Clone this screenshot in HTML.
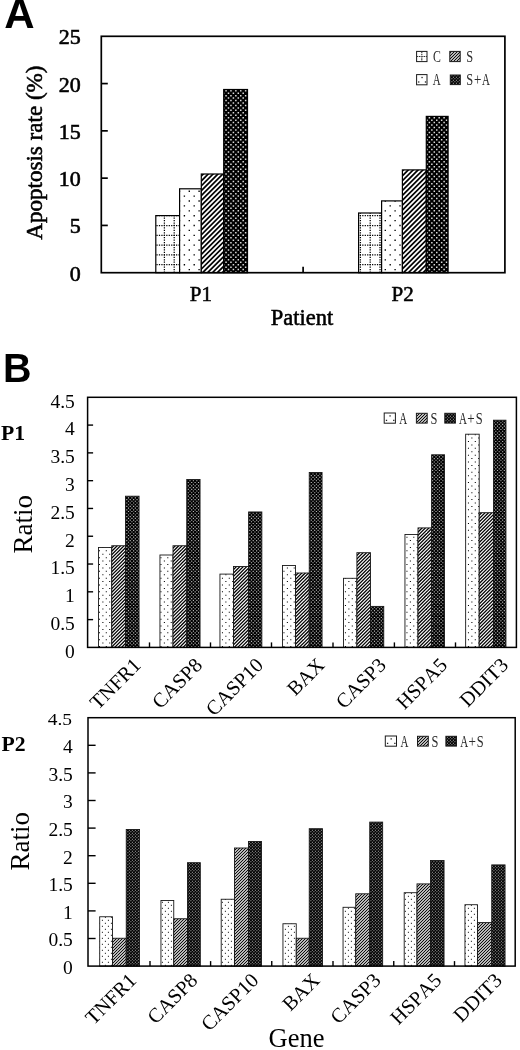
<!DOCTYPE html>
<html><head><meta charset="utf-8"><title>Figure</title>
<style>html,body{margin:0;padding:0;background:#fff;}body{width:520px;height:1050px;overflow:hidden;font-family:"Liberation Serif",serif;}svg{display:block;filter:grayscale(1) blur(0.4px);}text{fill:#000;font-kerning:none;}</style>
</head><body>
<svg width="520" height="1050" viewBox="0 0 520 1050">
<defs>
<pattern id="dotsA" x="0" y="0" width="49.0000" height="49.0000" patternUnits="userSpaceOnUse"><rect width="49.0000" height="49.0000" fill="#fff"/><g stroke="#000"><g stroke-width="1.35" stroke-dasharray="1.35 8.4500"><line x1="-2.48" y1="0.10" x2="58.80" y2="0.10"/><line x1="-2.48" y1="9.90" x2="58.80" y2="9.90"/><line x1="-2.48" y1="19.70" x2="58.80" y2="19.70"/><line x1="-2.48" y1="29.50" x2="58.80" y2="29.50"/><line x1="-2.48" y1="39.30" x2="58.80" y2="39.30"/><line x1="-2.48" y1="49.10" x2="58.80" y2="49.10"/></g><g stroke-width="1.35" stroke-dasharray="1.35 8.4500"><line x1="-7.38" y1="5.00" x2="58.80" y2="5.00"/><line x1="-7.38" y1="14.80" x2="58.80" y2="14.80"/><line x1="-7.38" y1="24.60" x2="58.80" y2="24.60"/><line x1="-7.38" y1="34.40" x2="58.80" y2="34.40"/><line x1="-7.38" y1="44.20" x2="58.80" y2="44.20"/></g></g></pattern><pattern id="darkA" x="0" y="0" width="49.0000" height="49.0000" patternUnits="userSpaceOnUse"><rect width="49.0000" height="49.0000" fill="#000"/><g stroke="#dcdcdc"><g stroke-width="1.5" stroke-dasharray="1.5 3.4000"><line x1="-2.55" y1="0.10" x2="53.90" y2="0.10"/><line x1="-2.55" y1="5.00" x2="53.90" y2="5.00"/><line x1="-2.55" y1="9.90" x2="53.90" y2="9.90"/><line x1="-2.55" y1="14.80" x2="53.90" y2="14.80"/><line x1="-2.55" y1="19.70" x2="53.90" y2="19.70"/><line x1="-2.55" y1="24.60" x2="53.90" y2="24.60"/><line x1="-2.55" y1="29.50" x2="53.90" y2="29.50"/><line x1="-2.55" y1="34.40" x2="53.90" y2="34.40"/><line x1="-2.55" y1="39.30" x2="53.90" y2="39.30"/><line x1="-2.55" y1="44.20" x2="53.90" y2="44.20"/><line x1="-2.55" y1="49.10" x2="53.90" y2="49.10"/></g><g stroke-width="1.5" stroke-dasharray="1.5 3.4000"><line x1="-5.00" y1="2.55" x2="53.90" y2="2.55"/><line x1="-5.00" y1="7.45" x2="53.90" y2="7.45"/><line x1="-5.00" y1="12.35" x2="53.90" y2="12.35"/><line x1="-5.00" y1="17.25" x2="53.90" y2="17.25"/><line x1="-5.00" y1="22.15" x2="53.90" y2="22.15"/><line x1="-5.00" y1="27.05" x2="53.90" y2="27.05"/><line x1="-5.00" y1="31.95" x2="53.90" y2="31.95"/><line x1="-5.00" y1="36.85" x2="53.90" y2="36.85"/><line x1="-5.00" y1="41.75" x2="53.90" y2="41.75"/><line x1="-5.00" y1="46.65" x2="53.90" y2="46.65"/></g></g></pattern><pattern id="hatchA" x="0" y="0" width="49.0000" height="49.0000" patternUnits="userSpaceOnUse"><rect width="49.0000" height="49.0000" fill="#fff"/><g stroke="#000" stroke-width="1.7"><line x1="-53.80" y1="-5" x2="-112.80" y2="54.00"/><line x1="-48.90" y1="-5" x2="-107.90" y2="54.00"/><line x1="-44.00" y1="-5" x2="-103.00" y2="54.00"/><line x1="-39.10" y1="-5" x2="-98.10" y2="54.00"/><line x1="-34.20" y1="-5" x2="-93.20" y2="54.00"/><line x1="-29.30" y1="-5" x2="-88.30" y2="54.00"/><line x1="-24.40" y1="-5" x2="-83.40" y2="54.00"/><line x1="-19.50" y1="-5" x2="-78.50" y2="54.00"/><line x1="-14.60" y1="-5" x2="-73.60" y2="54.00"/><line x1="-9.70" y1="-5" x2="-68.70" y2="54.00"/><line x1="-4.80" y1="-5" x2="-63.80" y2="54.00"/><line x1="0.10" y1="-5" x2="-58.90" y2="54.00"/><line x1="5.00" y1="-5" x2="-54.00" y2="54.00"/><line x1="9.90" y1="-5" x2="-49.10" y2="54.00"/><line x1="14.80" y1="-5" x2="-44.20" y2="54.00"/><line x1="19.70" y1="-5" x2="-39.30" y2="54.00"/><line x1="24.60" y1="-5" x2="-34.40" y2="54.00"/><line x1="29.50" y1="-5" x2="-29.50" y2="54.00"/><line x1="34.40" y1="-5" x2="-24.60" y2="54.00"/><line x1="39.30" y1="-5" x2="-19.70" y2="54.00"/><line x1="44.20" y1="-5" x2="-14.80" y2="54.00"/><line x1="49.10" y1="-5" x2="-9.90" y2="54.00"/><line x1="54.00" y1="-5" x2="-5.00" y2="54.00"/><line x1="58.90" y1="-5" x2="-0.10" y2="54.00"/><line x1="63.80" y1="-5" x2="4.80" y2="54.00"/><line x1="68.70" y1="-5" x2="9.70" y2="54.00"/><line x1="73.60" y1="-5" x2="14.60" y2="54.00"/><line x1="78.50" y1="-5" x2="19.50" y2="54.00"/><line x1="83.40" y1="-5" x2="24.40" y2="54.00"/><line x1="88.30" y1="-5" x2="29.30" y2="54.00"/><line x1="93.20" y1="-5" x2="34.20" y2="54.00"/><line x1="98.10" y1="-5" x2="39.10" y2="54.00"/><line x1="103.00" y1="-5" x2="44.00" y2="54.00"/><line x1="107.90" y1="-5" x2="48.90" y2="54.00"/></g></pattern><pattern id="gridA" x="0" y="0" width="49.0000" height="49.0000" patternUnits="userSpaceOnUse"><rect width="49.0000" height="49.0000" fill="#fff"/><g stroke="#000" stroke-width="1.25" stroke-dasharray="1.25 1.2000"><line x1="7.60" y1="-2.98" x2="7.60" y2="51.45"/><line x1="17.40" y1="-2.98" x2="17.40" y2="51.45"/><line x1="27.20" y1="-2.98" x2="27.20" y2="51.45"/><line x1="37.00" y1="-2.98" x2="37.00" y2="51.45"/><line x1="46.80" y1="-2.98" x2="46.80" y2="51.45"/><line x1="-2.83" y1="0.10" x2="51.45" y2="0.10"/><line x1="-2.83" y1="9.90" x2="51.45" y2="9.90"/><line x1="-2.83" y1="19.70" x2="51.45" y2="19.70"/><line x1="-2.83" y1="29.50" x2="51.45" y2="29.50"/><line x1="-2.83" y1="39.30" x2="51.45" y2="39.30"/><line x1="-2.83" y1="49.10" x2="51.45" y2="49.10"/></g></pattern>
<pattern id="dotsB" x="468" y="441" width="40.9998" height="40.9998" patternUnits="userSpaceOnUse"><rect width="40.9998" height="40.9998" fill="#fff"/><g stroke="#000"><g stroke-width="1.05" stroke-dasharray="1.05 5.7833"><line x1="-6.90" y1="0.50" x2="47.83" y2="0.50"/><line x1="-6.90" y1="7.33" x2="47.83" y2="7.33"/><line x1="-6.90" y1="14.17" x2="47.83" y2="14.17"/><line x1="-6.90" y1="21.00" x2="47.83" y2="21.00"/><line x1="-6.90" y1="27.83" x2="47.83" y2="27.83"/><line x1="-6.90" y1="34.67" x2="47.83" y2="34.67"/><line x1="-6.90" y1="41.50" x2="47.83" y2="41.50"/></g><g stroke-width="1.05" stroke-dasharray="1.05 5.7833"><line x1="-3.48" y1="3.92" x2="47.83" y2="3.92"/><line x1="-3.48" y1="10.75" x2="47.83" y2="10.75"/><line x1="-3.48" y1="17.58" x2="47.83" y2="17.58"/><line x1="-3.48" y1="24.42" x2="47.83" y2="24.42"/><line x1="-3.48" y1="31.25" x2="47.83" y2="31.25"/><line x1="-3.48" y1="38.08" x2="47.83" y2="38.08"/></g></g></pattern><pattern id="darkB" x="468" y="441" width="40.9998" height="40.9998" patternUnits="userSpaceOnUse"><rect width="40.9998" height="40.9998" fill="#000"/><g stroke="#b8b8b8"><g stroke-width="1.15" stroke-dasharray="1.15 2.2667"><line x1="-3.53" y1="0.50" x2="44.42" y2="0.50"/><line x1="-3.53" y1="3.92" x2="44.42" y2="3.92"/><line x1="-3.53" y1="7.33" x2="44.42" y2="7.33"/><line x1="-3.53" y1="10.75" x2="44.42" y2="10.75"/><line x1="-3.53" y1="14.17" x2="44.42" y2="14.17"/><line x1="-3.53" y1="17.58" x2="44.42" y2="17.58"/><line x1="-3.53" y1="21.00" x2="44.42" y2="21.00"/><line x1="-3.53" y1="24.42" x2="44.42" y2="24.42"/><line x1="-3.53" y1="27.83" x2="44.42" y2="27.83"/><line x1="-3.53" y1="31.25" x2="44.42" y2="31.25"/><line x1="-3.53" y1="34.67" x2="44.42" y2="34.67"/><line x1="-3.53" y1="38.08" x2="44.42" y2="38.08"/><line x1="-3.53" y1="41.50" x2="44.42" y2="41.50"/></g><g stroke-width="1.15" stroke-dasharray="1.15 2.2667"><line x1="-1.82" y1="2.21" x2="44.42" y2="2.21"/><line x1="-1.82" y1="5.62" x2="44.42" y2="5.62"/><line x1="-1.82" y1="9.04" x2="44.42" y2="9.04"/><line x1="-1.82" y1="12.46" x2="44.42" y2="12.46"/><line x1="-1.82" y1="15.87" x2="44.42" y2="15.87"/><line x1="-1.82" y1="19.29" x2="44.42" y2="19.29"/><line x1="-1.82" y1="22.71" x2="44.42" y2="22.71"/><line x1="-1.82" y1="26.12" x2="44.42" y2="26.12"/><line x1="-1.82" y1="29.54" x2="44.42" y2="29.54"/><line x1="-1.82" y1="32.96" x2="44.42" y2="32.96"/><line x1="-1.82" y1="36.37" x2="44.42" y2="36.37"/><line x1="-1.82" y1="39.79" x2="44.42" y2="39.79"/></g></g></pattern><pattern id="hatchB" x="468" y="441" width="40.9998" height="40.9998" patternUnits="userSpaceOnUse"><rect width="40.9998" height="40.9998" fill="#fff"/><g stroke="#000" stroke-width="1.25"><line x1="-42.83" y1="-5" x2="-93.83" y2="46.00"/><line x1="-39.42" y1="-5" x2="-90.42" y2="46.00"/><line x1="-36.00" y1="-5" x2="-87.00" y2="46.00"/><line x1="-32.58" y1="-5" x2="-83.58" y2="46.00"/><line x1="-29.17" y1="-5" x2="-80.17" y2="46.00"/><line x1="-25.75" y1="-5" x2="-76.75" y2="46.00"/><line x1="-22.33" y1="-5" x2="-73.33" y2="46.00"/><line x1="-18.92" y1="-5" x2="-69.92" y2="46.00"/><line x1="-15.50" y1="-5" x2="-66.50" y2="46.00"/><line x1="-12.08" y1="-5" x2="-63.08" y2="46.00"/><line x1="-8.67" y1="-5" x2="-59.67" y2="46.00"/><line x1="-5.25" y1="-5" x2="-56.25" y2="46.00"/><line x1="-1.83" y1="-5" x2="-52.83" y2="46.00"/><line x1="1.58" y1="-5" x2="-49.42" y2="46.00"/><line x1="5.00" y1="-5" x2="-46.00" y2="46.00"/><line x1="8.42" y1="-5" x2="-42.58" y2="46.00"/><line x1="11.83" y1="-5" x2="-39.17" y2="46.00"/><line x1="15.25" y1="-5" x2="-35.75" y2="46.00"/><line x1="18.67" y1="-5" x2="-32.33" y2="46.00"/><line x1="22.08" y1="-5" x2="-28.92" y2="46.00"/><line x1="25.50" y1="-5" x2="-25.50" y2="46.00"/><line x1="28.92" y1="-5" x2="-22.08" y2="46.00"/><line x1="32.33" y1="-5" x2="-18.67" y2="46.00"/><line x1="35.75" y1="-5" x2="-15.25" y2="46.00"/><line x1="39.17" y1="-5" x2="-11.83" y2="46.00"/><line x1="42.58" y1="-5" x2="-8.42" y2="46.00"/><line x1="46.00" y1="-5" x2="-5.00" y2="46.00"/><line x1="49.42" y1="-5" x2="-1.58" y2="46.00"/><line x1="52.83" y1="-5" x2="1.83" y2="46.00"/><line x1="56.25" y1="-5" x2="5.25" y2="46.00"/><line x1="59.67" y1="-5" x2="8.67" y2="46.00"/><line x1="63.08" y1="-5" x2="12.08" y2="46.00"/><line x1="66.50" y1="-5" x2="15.50" y2="46.00"/><line x1="69.92" y1="-5" x2="18.92" y2="46.00"/><line x1="73.33" y1="-5" x2="22.33" y2="46.00"/><line x1="76.75" y1="-5" x2="25.75" y2="46.00"/><line x1="80.17" y1="-5" x2="29.17" y2="46.00"/><line x1="83.58" y1="-5" x2="32.58" y2="46.00"/><line x1="87.00" y1="-5" x2="36.00" y2="46.00"/><line x1="90.42" y1="-5" x2="39.42" y2="46.00"/></g></pattern><pattern id="gridB" x="468" y="441" width="40.9998" height="40.9998" patternUnits="userSpaceOnUse"><rect width="40.9998" height="40.9998" fill="#fff"/><g stroke="#000" stroke-width="1.25" stroke-dasharray="1.25 0.4583"><line x1="0.06" y1="-1.83" x2="0.06" y2="42.71"/><line x1="6.89" y1="-1.83" x2="6.89" y2="42.71"/><line x1="13.73" y1="-1.83" x2="13.73" y2="42.71"/><line x1="20.56" y1="-1.83" x2="20.56" y2="42.71"/><line x1="27.39" y1="-1.83" x2="27.39" y2="42.71"/><line x1="34.23" y1="-1.83" x2="34.23" y2="42.71"/><line x1="41.06" y1="-1.83" x2="41.06" y2="42.71"/><line x1="-2.27" y1="0.50" x2="42.71" y2="0.50"/><line x1="-2.27" y1="7.33" x2="42.71" y2="7.33"/><line x1="-2.27" y1="14.17" x2="42.71" y2="14.17"/><line x1="-2.27" y1="21.00" x2="42.71" y2="21.00"/><line x1="-2.27" y1="27.83" x2="42.71" y2="27.83"/><line x1="-2.27" y1="34.67" x2="42.71" y2="34.67"/><line x1="-2.27" y1="41.50" x2="42.71" y2="41.50"/></g></pattern>
<pattern id="dotsC" x="405" y="899" width="36.0000" height="36.0000" patternUnits="userSpaceOnUse"><rect width="36.0000" height="36.0000" fill="#fff"/><g stroke="#000"><g stroke-width="1.0" stroke-dasharray="1.0 5.0000"><line x1="-6.10" y1="0.30" x2="42.00" y2="0.30"/><line x1="-6.10" y1="6.30" x2="42.00" y2="6.30"/><line x1="-6.10" y1="12.30" x2="42.00" y2="12.30"/><line x1="-6.10" y1="18.30" x2="42.00" y2="18.30"/><line x1="-6.10" y1="24.30" x2="42.00" y2="24.30"/><line x1="-6.10" y1="30.30" x2="42.00" y2="30.30"/><line x1="-6.10" y1="36.30" x2="42.00" y2="36.30"/></g><g stroke-width="1.0" stroke-dasharray="1.0 5.0000"><line x1="-3.10" y1="3.30" x2="42.00" y2="3.30"/><line x1="-3.10" y1="9.30" x2="42.00" y2="9.30"/><line x1="-3.10" y1="15.30" x2="42.00" y2="15.30"/><line x1="-3.10" y1="21.30" x2="42.00" y2="21.30"/><line x1="-3.10" y1="27.30" x2="42.00" y2="27.30"/><line x1="-3.10" y1="33.30" x2="42.00" y2="33.30"/></g></g></pattern><pattern id="darkC" x="405" y="899" width="36.0000" height="36.0000" patternUnits="userSpaceOnUse"><rect width="36.0000" height="36.0000" fill="#000"/><g stroke="#b0b0b0"><g stroke-width="1.05" stroke-dasharray="1.05 1.9500"><line x1="-3.12" y1="0.30" x2="39.00" y2="0.30"/><line x1="-3.12" y1="3.30" x2="39.00" y2="3.30"/><line x1="-3.12" y1="6.30" x2="39.00" y2="6.30"/><line x1="-3.12" y1="9.30" x2="39.00" y2="9.30"/><line x1="-3.12" y1="12.30" x2="39.00" y2="12.30"/><line x1="-3.12" y1="15.30" x2="39.00" y2="15.30"/><line x1="-3.12" y1="18.30" x2="39.00" y2="18.30"/><line x1="-3.12" y1="21.30" x2="39.00" y2="21.30"/><line x1="-3.12" y1="24.30" x2="39.00" y2="24.30"/><line x1="-3.12" y1="27.30" x2="39.00" y2="27.30"/><line x1="-3.12" y1="30.30" x2="39.00" y2="30.30"/><line x1="-3.12" y1="33.30" x2="39.00" y2="33.30"/><line x1="-3.12" y1="36.30" x2="39.00" y2="36.30"/></g><g stroke-width="1.05" stroke-dasharray="1.05 1.9500"><line x1="-1.62" y1="1.80" x2="39.00" y2="1.80"/><line x1="-1.62" y1="4.80" x2="39.00" y2="4.80"/><line x1="-1.62" y1="7.80" x2="39.00" y2="7.80"/><line x1="-1.62" y1="10.80" x2="39.00" y2="10.80"/><line x1="-1.62" y1="13.80" x2="39.00" y2="13.80"/><line x1="-1.62" y1="16.80" x2="39.00" y2="16.80"/><line x1="-1.62" y1="19.80" x2="39.00" y2="19.80"/><line x1="-1.62" y1="22.80" x2="39.00" y2="22.80"/><line x1="-1.62" y1="25.80" x2="39.00" y2="25.80"/><line x1="-1.62" y1="28.80" x2="39.00" y2="28.80"/><line x1="-1.62" y1="31.80" x2="39.00" y2="31.80"/><line x1="-1.62" y1="34.80" x2="39.00" y2="34.80"/></g></g></pattern><pattern id="hatchC" x="405" y="899" width="36.0000" height="36.0000" patternUnits="userSpaceOnUse"><rect width="36.0000" height="36.0000" fill="#fff"/><g stroke="#000" stroke-width="1.1"><line x1="-37.00" y1="-5" x2="-83.00" y2="41.00"/><line x1="-34.00" y1="-5" x2="-80.00" y2="41.00"/><line x1="-31.00" y1="-5" x2="-77.00" y2="41.00"/><line x1="-28.00" y1="-5" x2="-74.00" y2="41.00"/><line x1="-25.00" y1="-5" x2="-71.00" y2="41.00"/><line x1="-22.00" y1="-5" x2="-68.00" y2="41.00"/><line x1="-19.00" y1="-5" x2="-65.00" y2="41.00"/><line x1="-16.00" y1="-5" x2="-62.00" y2="41.00"/><line x1="-13.00" y1="-5" x2="-59.00" y2="41.00"/><line x1="-10.00" y1="-5" x2="-56.00" y2="41.00"/><line x1="-7.00" y1="-5" x2="-53.00" y2="41.00"/><line x1="-4.00" y1="-5" x2="-50.00" y2="41.00"/><line x1="-1.00" y1="-5" x2="-47.00" y2="41.00"/><line x1="2.00" y1="-5" x2="-44.00" y2="41.00"/><line x1="5.00" y1="-5" x2="-41.00" y2="41.00"/><line x1="8.00" y1="-5" x2="-38.00" y2="41.00"/><line x1="11.00" y1="-5" x2="-35.00" y2="41.00"/><line x1="14.00" y1="-5" x2="-32.00" y2="41.00"/><line x1="17.00" y1="-5" x2="-29.00" y2="41.00"/><line x1="20.00" y1="-5" x2="-26.00" y2="41.00"/><line x1="23.00" y1="-5" x2="-23.00" y2="41.00"/><line x1="26.00" y1="-5" x2="-20.00" y2="41.00"/><line x1="29.00" y1="-5" x2="-17.00" y2="41.00"/><line x1="32.00" y1="-5" x2="-14.00" y2="41.00"/><line x1="35.00" y1="-5" x2="-11.00" y2="41.00"/><line x1="38.00" y1="-5" x2="-8.00" y2="41.00"/><line x1="41.00" y1="-5" x2="-5.00" y2="41.00"/><line x1="44.00" y1="-5" x2="-2.00" y2="41.00"/><line x1="47.00" y1="-5" x2="1.00" y2="41.00"/><line x1="50.00" y1="-5" x2="4.00" y2="41.00"/><line x1="53.00" y1="-5" x2="7.00" y2="41.00"/><line x1="56.00" y1="-5" x2="10.00" y2="41.00"/><line x1="59.00" y1="-5" x2="13.00" y2="41.00"/><line x1="62.00" y1="-5" x2="16.00" y2="41.00"/><line x1="65.00" y1="-5" x2="19.00" y2="41.00"/><line x1="68.00" y1="-5" x2="22.00" y2="41.00"/><line x1="71.00" y1="-5" x2="25.00" y2="41.00"/><line x1="74.00" y1="-5" x2="28.00" y2="41.00"/><line x1="77.00" y1="-5" x2="31.00" y2="41.00"/><line x1="80.00" y1="-5" x2="34.00" y2="41.00"/></g></pattern><pattern id="gridC" x="405" y="899" width="36.0000" height="36.0000" patternUnits="userSpaceOnUse"><rect width="36.0000" height="36.0000" fill="#fff"/><g stroke="#000" stroke-width="1.25" stroke-dasharray="1.25 0.2500"><line x1="0.00" y1="-1.82" x2="0.00" y2="37.50"/><line x1="6.00" y1="-1.82" x2="6.00" y2="37.50"/><line x1="12.00" y1="-1.82" x2="12.00" y2="37.50"/><line x1="18.00" y1="-1.82" x2="18.00" y2="37.50"/><line x1="24.00" y1="-1.82" x2="24.00" y2="37.50"/><line x1="30.00" y1="-1.82" x2="30.00" y2="37.50"/><line x1="36.00" y1="-1.82" x2="36.00" y2="37.50"/><line x1="-2.12" y1="0.30" x2="37.50" y2="0.30"/><line x1="-2.12" y1="6.30" x2="37.50" y2="6.30"/><line x1="-2.12" y1="12.30" x2="37.50" y2="12.30"/><line x1="-2.12" y1="18.30" x2="37.50" y2="18.30"/><line x1="-2.12" y1="24.30" x2="37.50" y2="24.30"/><line x1="-2.12" y1="30.30" x2="37.50" y2="30.30"/><line x1="-2.12" y1="36.30" x2="37.50" y2="36.30"/></g></pattern>
</defs>
<text x="4.3" y="28.4" font-family='"Liberation Sans", sans-serif' font-size="42" font-weight="bold" text-anchor="start" >A</text>
<rect x="155.8" y="215.6" width="23.80" height="57.10" fill="url(#gridA)" stroke="#000" stroke-width="1.2"/>
<rect x="179.6" y="188.8" width="21.70" height="83.90" fill="url(#dotsA)" stroke="#000" stroke-width="1.2"/>
<rect x="201.3" y="174.0" width="22.40" height="98.70" fill="url(#hatchA)" stroke="#000" stroke-width="1.2"/>
<rect x="223.7" y="89.5" width="23.80" height="183.20" fill="url(#darkA)" stroke="#000" stroke-width="1.2"/>
<rect x="358.6" y="213.0" width="23.00" height="59.70" fill="url(#gridA)" stroke="#000" stroke-width="1.2"/>
<rect x="381.6" y="200.9" width="20.80" height="71.80" fill="url(#dotsA)" stroke="#000" stroke-width="1.2"/>
<rect x="402.4" y="169.9" width="23.90" height="102.80" fill="url(#hatchA)" stroke="#000" stroke-width="1.2"/>
<rect x="426.3" y="116.4" width="21.80" height="156.30" fill="url(#darkA)" stroke="#000" stroke-width="1.2"/>
<rect x="101.3" y="36.3" width="403.59999999999997" height="236.39999999999998" fill="none" stroke="#000" stroke-width="1.7"/>
<text x="80.8" y="280.7" font-family='"Liberation Serif", serif' font-size="22" font-weight="normal" text-anchor="end" stroke="#000" stroke-width="0.6">0</text>
<line x1="101.3" y1="225.42" x2="107.8" y2="225.42" stroke="#000" stroke-width="1.7"/>
<text x="80.8" y="233.42" font-family='"Liberation Serif", serif' font-size="22" font-weight="normal" text-anchor="end" stroke="#000" stroke-width="0.6">5</text>
<line x1="101.3" y1="178.14" x2="107.8" y2="178.14" stroke="#000" stroke-width="1.7"/>
<text x="80.8" y="186.14" font-family='"Liberation Serif", serif' font-size="22" font-weight="normal" text-anchor="end" stroke="#000" stroke-width="0.6">10</text>
<line x1="101.3" y1="130.86" x2="107.8" y2="130.86" stroke="#000" stroke-width="1.7"/>
<text x="80.8" y="138.86" font-family='"Liberation Serif", serif' font-size="22" font-weight="normal" text-anchor="end" stroke="#000" stroke-width="0.6">15</text>
<line x1="101.3" y1="83.58" x2="107.8" y2="83.58" stroke="#000" stroke-width="1.7"/>
<text x="80.8" y="91.58" font-family='"Liberation Serif", serif' font-size="22" font-weight="normal" text-anchor="end" stroke="#000" stroke-width="0.6">20</text>
<text x="80.8" y="44.3" font-family='"Liberation Serif", serif' font-size="22" font-weight="normal" text-anchor="end" stroke="#000" stroke-width="0.6">25</text>
<line x1="303.09999999999997" y1="272.7" x2="303.09999999999997" y2="266.7" stroke="#000" stroke-width="1.7"/>
<text x="200.8" y="300.8" font-family='"Liberation Serif", serif' font-size="21" font-weight="normal" text-anchor="middle" stroke="#000" stroke-width="0.55">P1</text>
<text x="402.6" y="300.8" font-family='"Liberation Serif", serif' font-size="21" font-weight="normal" text-anchor="middle" stroke="#000" stroke-width="0.55">P2</text>
<text x="302" y="324.6" font-family='"Liberation Serif", serif' font-size="22.5" font-weight="normal" text-anchor="middle" stroke="#000" stroke-width="0.55">Patient</text>
<text transform="translate(41.5,152.6) rotate(-90)" font-family='"Liberation Serif", serif' font-size="23.05" text-anchor="middle" stroke="#000" stroke-width="0.55">Apoptosis rate (%)</text>
<rect x="416.6" y="51.4" width="10.4" height="10.2" fill="#fff" stroke="#1a1a1a" stroke-width="1.0"/>
<path d="M421.80 51.4V61.599999999999994M416.6 56.50H427.0" stroke="#333" stroke-width="1.1" fill="none" stroke-dasharray="1.6 0.7"/>
<text transform="translate(436.82,62.1) scale(0.740,1)" font-family='"Liberation Serif", serif' font-size="16.0" text-anchor="middle" fill="#2a2a2a" style="fill:#2a2a2a">C</text>
<rect x="449.8" y="51.4" width="10.4" height="10.2" fill="url(#hatchC)" stroke="#1a1a1a" stroke-width="1.0"/>
<text transform="translate(469.72,62.1) scale(0.776,1)" font-family='"Liberation Serif", serif' font-size="16.0" text-anchor="middle" fill="#2a2a2a" style="fill:#2a2a2a">S</text>
<rect x="416.6" y="74.6" width="10.4" height="10.2" fill="#fff" stroke="#1a1a1a" stroke-width="1.0"/>
<rect x="421.41" y="76.86" width="1.3" height="1.3" fill="#222"/>
<rect x="418.08" y="81.34" width="1.3" height="1.3" fill="#222"/>
<rect x="424.84" y="81.34" width="1.3" height="1.3" fill="#222"/>
<text transform="translate(436.62,84.6) scale(0.684,1)" font-family='"Liberation Serif", serif' font-size="16.0" text-anchor="middle" fill="#2a2a2a" style="fill:#2a2a2a">A</text>
<rect x="450.3" y="75.0" width="10.0" height="9.6" fill="url(#darkC)" stroke="#1a1a1a" stroke-width="1.0"/>
<text transform="translate(469.72,84.6) scale(0.776,1)" font-family='"Liberation Serif", serif' font-size="16.0" text-anchor="middle" fill="#2a2a2a" style="fill:#2a2a2a">S</text>
<text transform="translate(477.77,84.6) scale(0.820,1)" font-family='"Liberation Serif", serif' font-size="16.0" text-anchor="middle" fill="#2a2a2a" style="fill:#2a2a2a">+</text>
<text transform="translate(485.82,84.6) scale(0.684,1)" font-family='"Liberation Serif", serif' font-size="16.0" text-anchor="middle" fill="#2a2a2a" style="fill:#2a2a2a">A</text>
<text x="3.1" y="381.8" font-family='"Liberation Sans", sans-serif' font-size="41" font-weight="bold" text-anchor="start" textLength="28.5" lengthAdjust="spacingAndGlyphs">B</text>
<rect x="98.45" y="547.50" width="13.30" height="99.90" fill="url(#dotsB)" stroke="#181818" stroke-width="0.9"/>
<rect x="111.75" y="545.75" width="13.75" height="101.65" fill="url(#hatchB)" stroke="#181818" stroke-width="0.9"/>
<rect x="125.50" y="496.20" width="13.55" height="151.20" fill="url(#darkB)" stroke="#181818" stroke-width="0.9"/>
<rect x="159.95" y="555.00" width="13.05" height="92.40" fill="url(#dotsB)" stroke="#181818" stroke-width="0.9"/>
<rect x="173.00" y="545.75" width="13.75" height="101.65" fill="url(#hatchB)" stroke="#181818" stroke-width="0.9"/>
<rect x="186.75" y="479.50" width="13.30" height="167.90" fill="url(#darkB)" stroke="#181818" stroke-width="0.9"/>
<rect x="219.95" y="574.10" width="13.55" height="73.30" fill="url(#dotsB)" stroke="#181818" stroke-width="0.9"/>
<rect x="233.50" y="566.50" width="15.10" height="80.90" fill="url(#hatchB)" stroke="#181818" stroke-width="0.9"/>
<rect x="248.60" y="511.95" width="13.25" height="135.45" fill="url(#darkB)" stroke="#181818" stroke-width="0.9"/>
<rect x="282.45" y="565.50" width="13.05" height="81.90" fill="url(#dotsB)" stroke="#181818" stroke-width="0.9"/>
<rect x="295.50" y="573.00" width="13.75" height="74.40" fill="url(#hatchB)" stroke="#181818" stroke-width="0.9"/>
<rect x="309.25" y="472.45" width="12.80" height="174.95" fill="url(#darkB)" stroke="#181818" stroke-width="0.9"/>
<rect x="343.45" y="578.30" width="13.45" height="69.10" fill="url(#dotsB)" stroke="#181818" stroke-width="0.9"/>
<rect x="356.90" y="552.70" width="13.60" height="94.70" fill="url(#hatchB)" stroke="#181818" stroke-width="0.9"/>
<rect x="370.50" y="606.40" width="13.25" height="41.00" fill="url(#darkB)" stroke="#181818" stroke-width="0.9"/>
<rect x="404.95" y="534.50" width="13.05" height="112.90" fill="url(#dotsB)" stroke="#181818" stroke-width="0.9"/>
<rect x="418.00" y="527.90" width="13.60" height="119.50" fill="url(#hatchB)" stroke="#181818" stroke-width="0.9"/>
<rect x="431.60" y="454.80" width="12.95" height="192.60" fill="url(#darkB)" stroke="#181818" stroke-width="0.9"/>
<rect x="465.65" y="434.20" width="13.55" height="213.20" fill="url(#dotsB)" stroke="#181818" stroke-width="0.9"/>
<rect x="479.20" y="512.70" width="14.30" height="134.70" fill="url(#hatchB)" stroke="#181818" stroke-width="0.9"/>
<rect x="493.50" y="420.20" width="12.45" height="227.20" fill="url(#darkB)" stroke="#181818" stroke-width="0.9"/>
<rect x="87.6" y="397.3" width="428.79999999999995" height="250.09999999999997" fill="none" stroke="#000" stroke-width="1.5"/>
<text x="74.8" y="657.7" font-family='"Liberation Serif", serif' font-size="19.5" font-weight="normal" text-anchor="end" >0</text>
<line x1="87.6" y1="619.61" x2="93.1" y2="619.61" stroke="#000" stroke-width="1.4"/>
<text x="74.8" y="629.91" font-family='"Liberation Serif", serif' font-size="19.5" font-weight="normal" text-anchor="end" >0.5</text>
<line x1="87.6" y1="591.82" x2="93.1" y2="591.82" stroke="#000" stroke-width="1.4"/>
<text x="74.8" y="602.12" font-family='"Liberation Serif", serif' font-size="19.5" font-weight="normal" text-anchor="end" >1</text>
<line x1="87.6" y1="564.03" x2="93.1" y2="564.03" stroke="#000" stroke-width="1.4"/>
<text x="74.8" y="574.33" font-family='"Liberation Serif", serif' font-size="19.5" font-weight="normal" text-anchor="end" >1.5</text>
<line x1="87.6" y1="536.24" x2="93.1" y2="536.24" stroke="#000" stroke-width="1.4"/>
<text x="74.8" y="546.54" font-family='"Liberation Serif", serif' font-size="19.5" font-weight="normal" text-anchor="end" >2</text>
<line x1="87.6" y1="508.46" x2="93.1" y2="508.46" stroke="#000" stroke-width="1.4"/>
<text x="74.8" y="518.76" font-family='"Liberation Serif", serif' font-size="19.5" font-weight="normal" text-anchor="end" >2.5</text>
<line x1="87.6" y1="480.67" x2="93.1" y2="480.67" stroke="#000" stroke-width="1.4"/>
<text x="74.8" y="490.97" font-family='"Liberation Serif", serif' font-size="19.5" font-weight="normal" text-anchor="end" >3</text>
<line x1="87.6" y1="452.88" x2="93.1" y2="452.88" stroke="#000" stroke-width="1.4"/>
<text x="74.8" y="463.18" font-family='"Liberation Serif", serif' font-size="19.5" font-weight="normal" text-anchor="end" >3.5</text>
<line x1="87.6" y1="425.09" x2="93.1" y2="425.09" stroke="#000" stroke-width="1.4"/>
<text x="74.8" y="435.39" font-family='"Liberation Serif", serif' font-size="19.5" font-weight="normal" text-anchor="end" >4</text>
<text x="74.8" y="407.6" font-family='"Liberation Serif", serif' font-size="19.5" font-weight="normal" text-anchor="end" >4.5</text>
<line x1="149.50" y1="647.4" x2="149.50" y2="642.4" stroke="#000" stroke-width="1.4"/>
<line x1="210.50" y1="647.4" x2="210.50" y2="642.4" stroke="#000" stroke-width="1.4"/>
<line x1="271.50" y1="647.4" x2="271.50" y2="642.4" stroke="#000" stroke-width="1.4"/>
<line x1="333.00" y1="647.4" x2="333.00" y2="642.4" stroke="#000" stroke-width="1.4"/>
<line x1="394.40" y1="647.4" x2="394.40" y2="642.4" stroke="#000" stroke-width="1.4"/>
<line x1="455.50" y1="647.4" x2="455.50" y2="642.4" stroke="#000" stroke-width="1.4"/>
<text transform="translate(142.00,666.40) rotate(-45)" font-family='"Liberation Serif", serif' font-size="20.4" text-anchor="end">TNFR1</text>
<text transform="translate(203.50,666.40) rotate(-45)" font-family='"Liberation Serif", serif' font-size="20.4" text-anchor="end">CASP8</text>
<text transform="translate(264.50,666.40) rotate(-45)" font-family='"Liberation Serif", serif' font-size="20.4" text-anchor="end">CASP10</text>
<text transform="translate(325.75,666.40) rotate(-45)" font-family='"Liberation Serif", serif' font-size="20.4" text-anchor="end">BAX</text>
<text transform="translate(387.20,666.40) rotate(-45)" font-family='"Liberation Serif", serif' font-size="20.4" text-anchor="end">CASP3</text>
<text transform="translate(448.45,666.40) rotate(-45)" font-family='"Liberation Serif", serif' font-size="20.4" text-anchor="end">HSPA5</text>
<text transform="translate(509.40,666.40) rotate(-45)" font-family='"Liberation Serif", serif' font-size="20.4" text-anchor="end">DDIT3</text>
<text transform="translate(1,440) scale(1.06,1)" font-family='"Liberation Serif", serif' font-size="20.5" font-weight="bold">P1</text>
<text transform="translate(31.8,524.3) rotate(-90)" font-family='"Liberation Serif", serif' font-size="27" text-anchor="middle">Ratio</text>
<rect x="384.2" y="413.0" width="11.2" height="10.2" fill="#fff" stroke="#1a1a1a" stroke-width="1.0"/>
<rect x="389.42" y="415.26" width="1.3" height="1.3" fill="#222"/>
<rect x="385.84" y="419.74" width="1.3" height="1.3" fill="#222"/>
<rect x="393.12" y="419.74" width="1.3" height="1.3" fill="#222"/>
<text transform="translate(403.22,423.7) scale(0.684,1)" font-family='"Liberation Serif", serif' font-size="16.0" text-anchor="middle" fill="#2a2a2a" style="fill:#2a2a2a">A</text>
<rect x="416.4" y="413.3" width="10.8" height="9.8" fill="url(#hatchC)" stroke="#1a1a1a" stroke-width="1.0"/>
<text transform="translate(433.92,423.7) scale(0.776,1)" font-family='"Liberation Serif", serif' font-size="16.0" text-anchor="middle" fill="#2a2a2a" style="fill:#2a2a2a">S</text>
<rect x="444.8" y="413.3" width="10.6" height="9.8" fill="url(#darkC)" stroke="#1a1a1a" stroke-width="1.0"/>
<text transform="translate(463.02,423.7) scale(0.684,1)" font-family='"Liberation Serif", serif' font-size="16.0" text-anchor="middle" fill="#2a2a2a" style="fill:#2a2a2a">A</text>
<text transform="translate(471.07,423.7) scale(0.820,1)" font-family='"Liberation Serif", serif' font-size="16.0" text-anchor="middle" fill="#2a2a2a" style="fill:#2a2a2a">+</text>
<text transform="translate(479.12,423.7) scale(0.776,1)" font-family='"Liberation Serif", serif' font-size="16.0" text-anchor="middle" fill="#2a2a2a" style="fill:#2a2a2a">S</text>
<rect x="99.70" y="916.75" width="12.80" height="49.35" fill="url(#dotsC)" stroke="#181818" stroke-width="0.9"/>
<rect x="112.50" y="938.25" width="13.75" height="27.85" fill="url(#hatchC)" stroke="#181818" stroke-width="0.9"/>
<rect x="126.25" y="829.45" width="13.30" height="136.65" fill="url(#darkC)" stroke="#181818" stroke-width="0.9"/>
<rect x="160.95" y="900.50" width="12.80" height="65.60" fill="url(#dotsC)" stroke="#181818" stroke-width="0.9"/>
<rect x="173.75" y="918.75" width="13.75" height="47.35" fill="url(#hatchC)" stroke="#181818" stroke-width="0.9"/>
<rect x="187.50" y="862.70" width="12.80" height="103.40" fill="url(#darkC)" stroke="#181818" stroke-width="0.9"/>
<rect x="221.20" y="899.25" width="13.30" height="66.85" fill="url(#dotsC)" stroke="#181818" stroke-width="0.9"/>
<rect x="234.50" y="848.00" width="14.00" height="118.10" fill="url(#hatchC)" stroke="#181818" stroke-width="0.9"/>
<rect x="248.50" y="841.45" width="13.05" height="124.65" fill="url(#darkC)" stroke="#181818" stroke-width="0.9"/>
<rect x="282.95" y="923.75" width="13.30" height="42.35" fill="url(#dotsC)" stroke="#181818" stroke-width="0.9"/>
<rect x="296.25" y="938.25" width="13.00" height="27.85" fill="url(#hatchC)" stroke="#181818" stroke-width="0.9"/>
<rect x="309.25" y="828.70" width="13.30" height="137.40" fill="url(#darkC)" stroke="#181818" stroke-width="0.9"/>
<rect x="343.05" y="907.30" width="12.70" height="58.80" fill="url(#dotsC)" stroke="#181818" stroke-width="0.9"/>
<rect x="355.75" y="893.80" width="14.00" height="72.30" fill="url(#hatchC)" stroke="#181818" stroke-width="0.9"/>
<rect x="369.75" y="822.10" width="12.90" height="144.00" fill="url(#darkC)" stroke="#181818" stroke-width="0.9"/>
<rect x="404.20" y="892.70" width="12.80" height="73.40" fill="url(#dotsC)" stroke="#181818" stroke-width="0.9"/>
<rect x="417.00" y="883.90" width="13.50" height="82.20" fill="url(#hatchC)" stroke="#181818" stroke-width="0.9"/>
<rect x="430.50" y="860.50" width="13.55" height="105.60" fill="url(#darkC)" stroke="#181818" stroke-width="0.9"/>
<rect x="464.95" y="904.70" width="12.55" height="61.40" fill="url(#dotsC)" stroke="#181818" stroke-width="0.9"/>
<rect x="477.50" y="922.60" width="14.25" height="43.50" fill="url(#hatchC)" stroke="#181818" stroke-width="0.9"/>
<rect x="491.75" y="864.90" width="13.30" height="101.20" fill="url(#darkC)" stroke="#181818" stroke-width="0.9"/>
<rect x="88.0" y="717.7" width="427.20000000000005" height="248.39999999999998" fill="none" stroke="#000" stroke-width="1.5"/>
<text x="72.8" y="973.9" font-family='"Liberation Serif", serif' font-size="19.5" font-weight="normal" text-anchor="end" >0</text>
<line x1="88.0" y1="938.50" x2="95.6" y2="938.50" stroke="#000" stroke-width="1.4"/>
<text x="72.8" y="946.3" font-family='"Liberation Serif", serif' font-size="19.5" font-weight="normal" text-anchor="end" >0.5</text>
<line x1="88.0" y1="910.90" x2="95.6" y2="910.90" stroke="#000" stroke-width="1.4"/>
<text x="72.8" y="918.7" font-family='"Liberation Serif", serif' font-size="19.5" font-weight="normal" text-anchor="end" >1</text>
<line x1="88.0" y1="883.30" x2="95.6" y2="883.30" stroke="#000" stroke-width="1.4"/>
<text x="72.8" y="891.1" font-family='"Liberation Serif", serif' font-size="19.5" font-weight="normal" text-anchor="end" >1.5</text>
<line x1="88.0" y1="855.70" x2="95.6" y2="855.70" stroke="#000" stroke-width="1.4"/>
<text x="72.8" y="863.5" font-family='"Liberation Serif", serif' font-size="19.5" font-weight="normal" text-anchor="end" >2</text>
<line x1="88.0" y1="828.10" x2="95.6" y2="828.10" stroke="#000" stroke-width="1.4"/>
<text x="72.8" y="835.9" font-family='"Liberation Serif", serif' font-size="19.5" font-weight="normal" text-anchor="end" >2.5</text>
<line x1="88.0" y1="800.50" x2="95.6" y2="800.50" stroke="#000" stroke-width="1.4"/>
<text x="72.8" y="808.3" font-family='"Liberation Serif", serif' font-size="19.5" font-weight="normal" text-anchor="end" >3</text>
<line x1="88.0" y1="772.90" x2="95.6" y2="772.90" stroke="#000" stroke-width="1.4"/>
<text x="72.8" y="780.7" font-family='"Liberation Serif", serif' font-size="19.5" font-weight="normal" text-anchor="end" >3.5</text>
<line x1="88.0" y1="745.30" x2="95.6" y2="745.30" stroke="#000" stroke-width="1.4"/>
<text x="72.8" y="753.1" font-family='"Liberation Serif", serif' font-size="19.5" font-weight="normal" text-anchor="end" >4</text>
<text transform="translate(72.0,725.30) scale(1,0.86)" font-family='"Liberation Serif", serif' font-size="19.5" text-anchor="end">4.5</text>
<line x1="150.00" y1="966.1" x2="150.00" y2="961.1" stroke="#000" stroke-width="1.4"/>
<line x1="210.60" y1="966.1" x2="210.60" y2="961.1" stroke="#000" stroke-width="1.4"/>
<line x1="271.75" y1="966.1" x2="271.75" y2="961.1" stroke="#000" stroke-width="1.4"/>
<line x1="333.00" y1="966.1" x2="333.00" y2="961.1" stroke="#000" stroke-width="1.4"/>
<line x1="393.75" y1="966.1" x2="393.75" y2="961.1" stroke="#000" stroke-width="1.4"/>
<line x1="454.50" y1="966.1" x2="454.50" y2="961.1" stroke="#000" stroke-width="1.4"/>
<text transform="translate(137.50,981.60) rotate(-45)" font-family='"Liberation Serif", serif' font-size="20.4" text-anchor="end">TNFR1</text>
<text transform="translate(198.80,981.60) rotate(-45)" font-family='"Liberation Serif", serif' font-size="20.4" text-anchor="end">CASP8</text>
<text transform="translate(259.68,981.60) rotate(-45)" font-family='"Liberation Serif", serif' font-size="20.4" text-anchor="end">CASP10</text>
<text transform="translate(320.88,981.60) rotate(-45)" font-family='"Liberation Serif", serif' font-size="20.4" text-anchor="end">BAX</text>
<text transform="translate(381.88,981.60) rotate(-45)" font-family='"Liberation Serif", serif' font-size="20.4" text-anchor="end">CASP3</text>
<text transform="translate(442.62,981.60) rotate(-45)" font-family='"Liberation Serif", serif' font-size="20.4" text-anchor="end">HSPA5</text>
<text transform="translate(503.25,981.60) rotate(-45)" font-family='"Liberation Serif", serif' font-size="20.4" text-anchor="end">DDIT3</text>
<text transform="translate(1.5,750.6) scale(1.06,1)" font-family='"Liberation Serif", serif' font-size="20.5" font-weight="bold">P2</text>
<text transform="translate(28.6,841.3) rotate(-90)" font-family='"Liberation Serif", serif' font-size="27" text-anchor="middle">Ratio</text>
<rect x="385.3" y="736.0" width="11.2" height="10.2" fill="#fff" stroke="#1a1a1a" stroke-width="1.0"/>
<rect x="390.52" y="738.26" width="1.3" height="1.3" fill="#222"/>
<rect x="386.94" y="742.74" width="1.3" height="1.3" fill="#222"/>
<rect x="394.22" y="742.74" width="1.3" height="1.3" fill="#222"/>
<text transform="translate(404.32,746.7) scale(0.684,1)" font-family='"Liberation Serif", serif' font-size="16.0" text-anchor="middle" fill="#2a2a2a" style="fill:#2a2a2a">A</text>
<rect x="417.5" y="736.3" width="10.8" height="9.8" fill="url(#hatchC)" stroke="#1a1a1a" stroke-width="1.0"/>
<text transform="translate(435.02,746.7) scale(0.776,1)" font-family='"Liberation Serif", serif' font-size="16.0" text-anchor="middle" fill="#2a2a2a" style="fill:#2a2a2a">S</text>
<rect x="445.90000000000003" y="736.3" width="10.6" height="9.8" fill="url(#darkC)" stroke="#1a1a1a" stroke-width="1.0"/>
<text transform="translate(464.12,746.7) scale(0.684,1)" font-family='"Liberation Serif", serif' font-size="16.0" text-anchor="middle" fill="#2a2a2a" style="fill:#2a2a2a">A</text>
<text transform="translate(472.18,746.7) scale(0.820,1)" font-family='"Liberation Serif", serif' font-size="16.0" text-anchor="middle" fill="#2a2a2a" style="fill:#2a2a2a">+</text>
<text transform="translate(480.23,746.7) scale(0.776,1)" font-family='"Liberation Serif", serif' font-size="16.0" text-anchor="middle" fill="#2a2a2a" style="fill:#2a2a2a">S</text>
<text x="296.5" y="1046.6" font-family='"Liberation Serif", serif' font-size="26.5" font-weight="normal" text-anchor="middle" >Gene</text>
</svg></body></html>
